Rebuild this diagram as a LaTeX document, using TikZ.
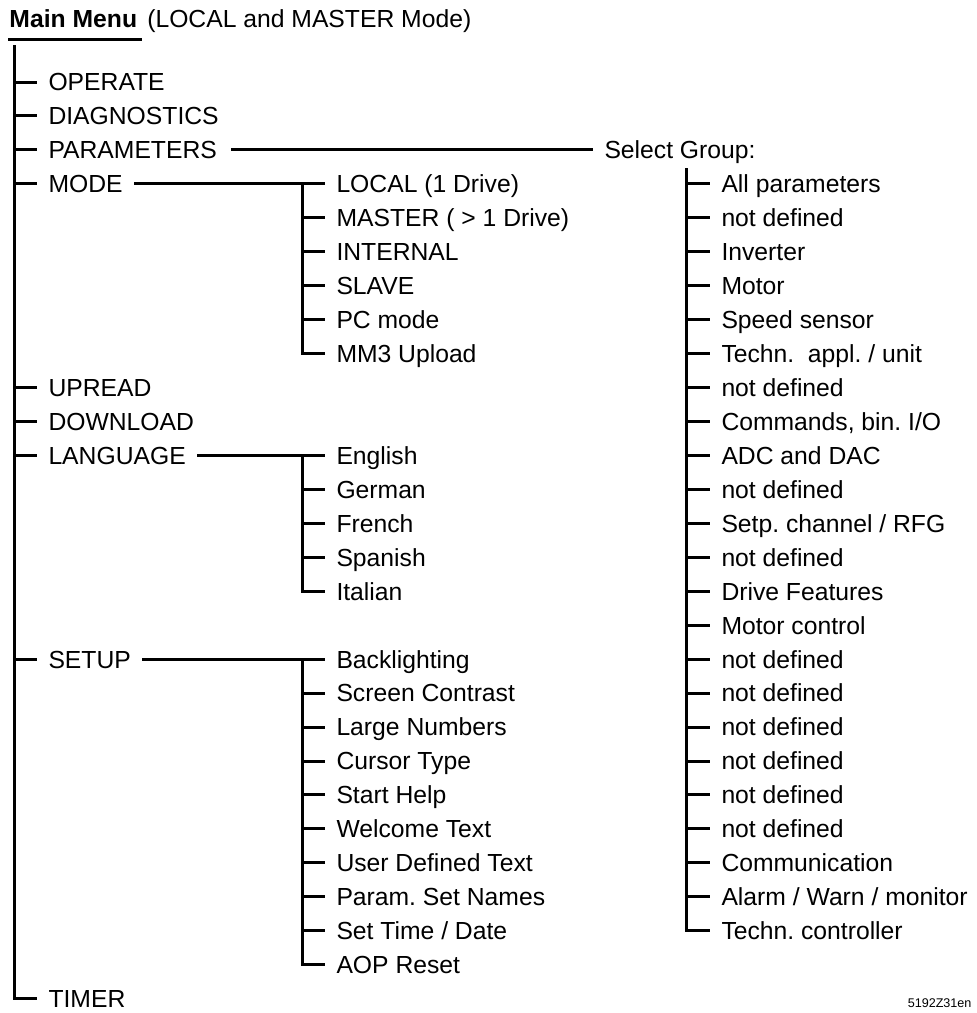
\documentclass[tikz,border=0pt]{standalone}
\usepackage{fontspec}
\setmainfont{Liberation Sans}
\newcommand{\itemfont}{\fontsize{12.35}{14}\selectfont}
\begin{document}
\frenchspacing
\begin{tikzpicture}[x=0.5pt,y=-0.5pt,line width=1.5pt,
  item/.style={anchor=west,inner xsep=5pt,inner ysep=0pt,text height=8.85pt,text depth=0pt,font=\itemfont},
  plain/.style={anchor=base west,inner sep=0pt,font=\itemfont}]
\useasboundingbox (0,0) rectangle (977,1013);

% title
\node[plain,font=\itemfont\bfseries] (mm) at (8,27) {Main Menu};
\node[plain] (mmsub) at ([xshift=3.6pt]mm.base east) {(LOCAL and MASTER Mode)};
\draw ([yshift=-6pt]mm.base west) -- ([yshift=-6pt,xshift=1.5pt]mm.base east);

% main column
\foreach \n/\t/\r in {operate/OPERATE/0, diag/DIAGNOSTICS/1, param/PARAMETERS/2, mode/MODE/3,
  upread/UPREAD/9, download/DOWNLOAD/10, language/LANGUAGE/11, setup/SETUP/17, timer/TIMER/27}
  \node[item] (\n) at (37,{82+33.95*\r}) {\t};
\coordinate (trunk) at (14,45);
\draw (trunk) |- (timer.west);
\foreach \n in {operate,diag,param,mode,upread,download,language,setup}
  \draw (trunk |- \n.west) -- (\n.west);

% MODE submenu
\coordinate (subv) at (302,0);
\foreach \n/\t/\r in {local/LOCAL (1 Drive)/3, master/MASTER ( > 1 Drive)/4, internal/INTERNAL/5,
  slave/SLAVE/6, pcmode/PC mode/7, mmthree/MM3 Upload/8}
  \node[item] (\n) at (325,{82+33.95*\r}) {\t};
\draw (mode.east) -- (local.west);
\draw (local.west -| subv) |- (mmthree.west);
\foreach \n in {master,internal,slave,pcmode}
  \draw (\n.west -| subv) -- (\n.west);

% LANGUAGE submenu
\foreach \n/\t/\r in {english/English/11, german/German/12, french/French/13, spanish/Spanish/14, italian/Italian/15}
  \node[item] (\n) at (325,{82+33.95*\r}) {\t};
\draw (language.east) -- (english.west);
\draw (english.west -| subv) |- (italian.west);
\foreach \n in {german,french,spanish}
  \draw (\n.west -| subv) -- (\n.west);

% SETUP submenu
\foreach \t [count=\i from 17] in {Backlighting, Screen Contrast, Large Numbers, Cursor Type, Start Help,
  Welcome Text, User Defined Text, Param. Set Names, Set Time / Date, AOP Reset}
  \node[item] (s\i) at (325,{82+33.95*\i}) {\t};
\draw (setup.east) -- (s17.west);
\draw (s17.west -| subv) |- (s26.west);
\foreach \i in {18,...,25}
  \draw (s\i.west -| subv) -- (s\i.west);

% PARAMETERS submenu
\node[item] (selgrp) at (593,{82+33.95*2}) {Select Group:};
\draw ([xshift=1.5pt]param.east) -- (selgrp.west);
\foreach \t [count=\i from 3] in {All parameters, not defined, Inverter, Motor, Speed sensor,
  {Techn.\ \ appl. / unit}, not defined, {Commands, bin. I/O}, ADC and DAC, not defined,
  Setp. channel / RFG, not defined, Drive Features, Motor control, not defined, not defined,
  not defined, not defined, not defined, not defined, Communication, Alarm / Warn / monitor,
  Techn. controller}
  \node[item] (g\i) at (710,{82+33.95*\i}) {\t};
\coordinate (selv) at (686,168);
\draw (selv) |- (g25.west);
\foreach \i in {3,...,24}
  \draw (selv |- g\i.west) -- (g\i.west);

% figure code
\node[anchor=base east,inner sep=0pt,font=\fontsize{6.3}{7}\selectfont] (code) at (973,1007) {5192Z31en};
\end{tikzpicture}
\end{document}
